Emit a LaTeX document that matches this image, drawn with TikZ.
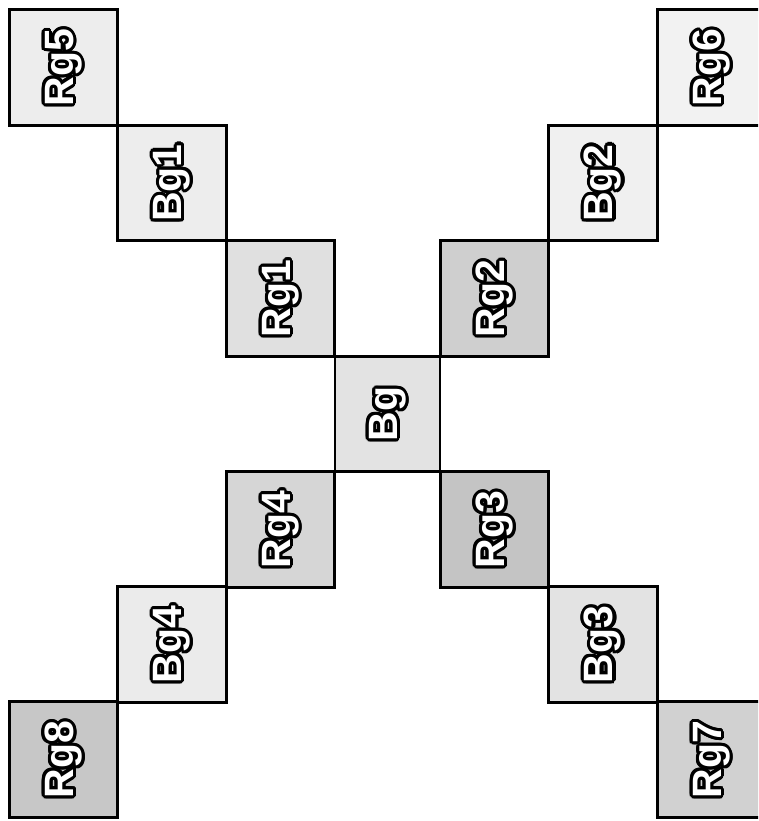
\documentclass[tikz,border=0pt]{standalone}
\usepackage{fontspec}
\setmainfont{Liberation Sans}
\usetikzlibrary{calc}

\tikzset{
  cell/.style={draw=black, line width=2.6pt, inner sep=0pt,
    minimum width=108.5pt, minimum height=115.5pt},
  lbl/.style={rotate=90, inner sep=0pt,
    font=\fontsize{41}{41}\selectfont\bfseries}
}

% label with a white face and a thick black rim
\newcommand\rimlabel[3]{%
  \foreach \ang in {0,20,...,340}
    \node[lbl, text=black, shift={(\ang:3.1pt)}] at (#2) {#3};
  \node[lbl, text=white] (#1) at (#2) {#3};
}

\begin{document}
\begin{tikzpicture}[x=1pt, y=-1pt]
  \useasboundingbox (0,0) rectangle (758,821);
  \clip (0,0) rectangle (758,821);

  % upper-left arm
  \node[cell, fill=black!7]  (rg5) at (63.5,67.5)  {};
  \node[cell, fill=black!7]  (bg1) at (172,183)    {};
  \node[cell, fill=black!12] (rg1) at (280.5,298.5){};
  % upper-right arm
  \node[cell, fill=black!19] (rg2) at (494.5,298.5){};
  \node[cell, fill=black!6]  (bg2) at (603,183)    {};
  \node[cell, fill=black!5]  (rg6) at (711.5,67.5) {};
  % centre
  \node[cell, fill=black!11, minimum width=105pt] (bg) at (387.5,414) {};
  % lower-left arm
  \node[cell, fill=black!16] (rg4) at (280.5,529.5){};
  \node[cell, fill=black!8]  (bg4) at (172,644.5)  {};
  \node[cell, fill=black!22] (rg8) at (63.5,759.5) {};
  % lower-right arm
  \node[cell, fill=black!23] (rg3) at (494.5,529.5){};
  \node[cell, fill=black!11] (bg3) at (603,644.5)  {};
  \node[cell, fill=black!18] (rg7) at (711.5,759.5){};

  \rimlabel{trg5}{rg5}{Rg5}
  \rimlabel{tbg1}{bg1}{Bg1}
  \rimlabel{trg1}{rg1}{Rg1}
  \rimlabel{trg2}{rg2}{Rg2}
  \rimlabel{tbg2}{bg2}{Bg2}
  \rimlabel{trg6}{rg6}{Rg6}
  \rimlabel{tbg}{bg}{Bg}
  \rimlabel{trg4}{rg4}{Rg4}
  \rimlabel{tbg4}{bg4}{Bg4}
  \rimlabel{trg8}{rg8}{Rg8}
  \rimlabel{trg3}{rg3}{Rg3}
  \rimlabel{tbg3}{bg3}{Bg3}
  \rimlabel{trg7}{rg7}{Rg7}
\end{tikzpicture}
\end{document}
